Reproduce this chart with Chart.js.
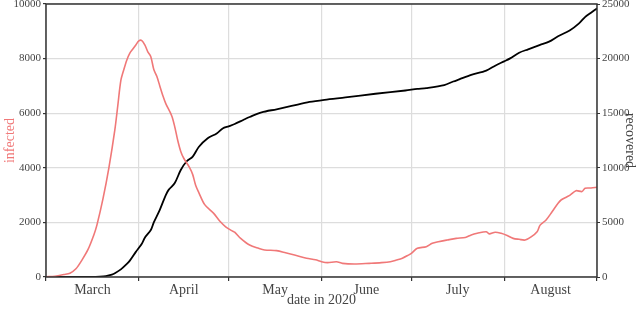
<!DOCTYPE html>
<html>
<head>
<meta charset="utf-8">
<script src="https://cdn.jsdelivr.net/npm/chart.js@4/dist/chart.umd.min.js"></script>
<style>
html,body{margin:0;padding:0;background:#fff;}
#wrap{width:640px;height:309px;}
</style>
</head>
<body>
<div id="wrap"><canvas id="c" width="640" height="309"></canvas></div>
<script>
// Days since 1 March 2020
const monthStartDays = [0, 31, 61, 92, 122, 153, 184];
const monthLabels = ['March', 'April', 'May', 'June', 'July', 'August'];
const leftTicks = [0, 2000, 4000, 6000, 8000, 10000];
const rightTicks = [0, 5000, 10000, 15000, 20000, 25000];

const infectedDays = [0,3,6,8,10,12,14,16,17,19,21,23,24,25,26,27,28,29,30,31,32,33,34,35,36,37,38,39,40,42,43,44,45,46,48,49,50,51,53,56,58,60,62,63,65,68,71,73,77,80,83,87,90,92,94,97,99,103,108,112,115,117,119,121,122,124,127,129,131,134,137,140,142,144,147,148,150,152,154,156,158,160,162,164,165,167,169,171,172,174,175,177,179,180,182,184];
const infectedValues = [10,30,90,140,300,620,1000,1550,1900,2850,4000,5400,6300,7200,7600,7950,8200,8350,8500,8650,8660,8500,8250,8070,7600,7350,7000,6650,6350,5900,5500,5000,4600,4350,4000,3750,3350,3100,2650,2330,2050,1840,1700,1640,1415,1170,1050,990,965,890,805,685,630,560,525,560,500,475,500,525,560,620,690,800,865,1050,1110,1235,1290,1355,1415,1450,1540,1600,1660,1580,1640,1600,1520,1415,1380,1355,1470,1660,1900,2090,2390,2700,2820,2940,3000,3160,3130,3250,3260,3290];

const recoveredDays = [0,10,15,18,20,22,23,25,27,28,30,32,33,35,36,38,40,41,43,45,47,49,51,54,57,59,61,63,66,68,72,77,82,88,93,100,110,120,124,127,133,136,138,142,147,150,153,155,158,161,165,168,171,175,178,180,182,184];
const recoveredValues = [0,0,10,40,90,220,340,700,1200,1500,2300,3050,3600,4300,5000,6150,7500,8000,8600,9800,10600,11020,11900,12700,13150,13600,13800,14010,14400,14650,15080,15360,15660,16030,16230,16450,16780,17080,17220,17300,17580,17900,18100,18500,18900,19350,19750,20020,20540,20850,21250,21550,22050,22600,23230,23800,24200,24600];

const serif = '"Liberation Serif", "DejaVu Serif", serif';
const monthMid = monthLabels.map((m, i) => (monthStartDays[i] + monthStartDays[i + 1]) / 2);

const framePlugin = {
  id: 'frame',
  afterDatasetsDraw(chart) {
    const a = chart.chartArea, ctx = chart.ctx;
    ctx.save();
    ctx.strokeStyle = '#333';
    ctx.lineWidth = 1.5;
    ctx.strokeRect(a.left, a.top, a.right - a.left, a.bottom - a.top);
    ctx.restore();
  }
};

function noPad(scale) {
  scale.paddingTop = 0;
  scale.paddingBottom = 0;
}

new Chart(document.getElementById('c'), {
  type: 'line',
  data: {
    datasets: [
      {
        label: 'infected',
        data: infectedDays.map((d, i) => ({x: d, y: infectedValues[i]})),
        borderColor: '#f07878',
        borderWidth: 1.6,
        pointRadius: 0,
        tension: 0.3,
        yAxisID: 'y'
      },
      {
        label: 'recovered',
        data: recoveredDays.map((d, i) => ({x: d, y: recoveredValues[i]})),
        borderColor: '#000',
        borderWidth: 1.8,
        pointRadius: 0,
        tension: 0.3,
        yAxisID: 'y1'
      }
    ]
  },
  options: {
    responsive: false,
    animation: false,
    layout: {padding: {top: 4, left: 0, right: 0, bottom: 0}},
    plugins: {legend: {display: false}, tooltip: {enabled: false}},
    scales: {
      x: {
        type: 'linear',
        min: 0,
        max: 184,
        afterBuildTicks(scale) {
          const vals = [];
          monthStartDays.forEach((d, i) => {
            vals.push(d);
            if (i < monthMid.length) vals.push(monthMid[i]);
          });
          scale.ticks = vals.map(v => ({value: v}));
        },
        afterFit(scale) { scale.height = 32; scale.paddingLeft = 0; scale.paddingRight = 0; },
        ticks: {
          autoSkip: false,
          maxRotation: 0,
          padding: 1,
          color: '#444',
          font: {family: serif, size: 14},
          callback(v) {
            const i = monthMid.indexOf(v);
            return i >= 0 ? monthLabels[i] : '';
          }
        },
        grid: {
          color: ctx => monthStartDays.includes(ctx.tick.value) ? '#dddddd' : 'rgba(0,0,0,0)',
          tickColor: ctx => monthStartDays.includes(ctx.tick.value) ? '#333' : 'rgba(0,0,0,0)',
          lineWidth: 1.2,
          tickLength: 4
        },
        border: {display: false},
        title: {
          display: true,
          text: 'date in 2020',
          color: '#444',
          font: {family: serif, size: 14},
          padding: {top: -3, bottom: 0}
        }
      },
      y: {
        position: 'left',
        min: 0,
        max: 10000,
        afterBuildTicks(scale) { scale.ticks = leftTicks.map(v => ({value: v})); },
        afterFit(scale) { scale.width = 46; noPad(scale); },
        ticks: {
          color: '#444',
          padding: 2,
          font: {family: serif, size: 11},
          callback: v => String(v)
        },
        grid: {color: '#dddddd', lineWidth: 1.2, tickColor: '#333', tickLength: 3},
        border: {display: false},
        title: {
          display: true,
          text: 'infected',
          color: '#f07878',
          font: {family: serif, size: 14},
          padding: {top: 2, bottom: 0}
        }
      },
      y1: {
        position: 'right',
        min: 0,
        max: 25000,
        afterBuildTicks(scale) { scale.ticks = rightTicks.map(v => ({value: v})); },
        afterFit(scale) { scale.width = 43; noPad(scale); },
        ticks: {
          color: '#444',
          padding: 2,
          font: {family: serif, size: 11},
          callback: v => String(v)
        },
        grid: {drawOnChartArea: false, tickColor: '#333', tickLength: 3},
        border: {display: false},
        title: {
          display: true,
          text: 'recovered',
          color: '#444',
          font: {family: serif, size: 14},
          padding: {top: 2, bottom: 0}
        }
      }
    }
  },
  plugins: [framePlugin]
});
</script>
</body>
</html>
